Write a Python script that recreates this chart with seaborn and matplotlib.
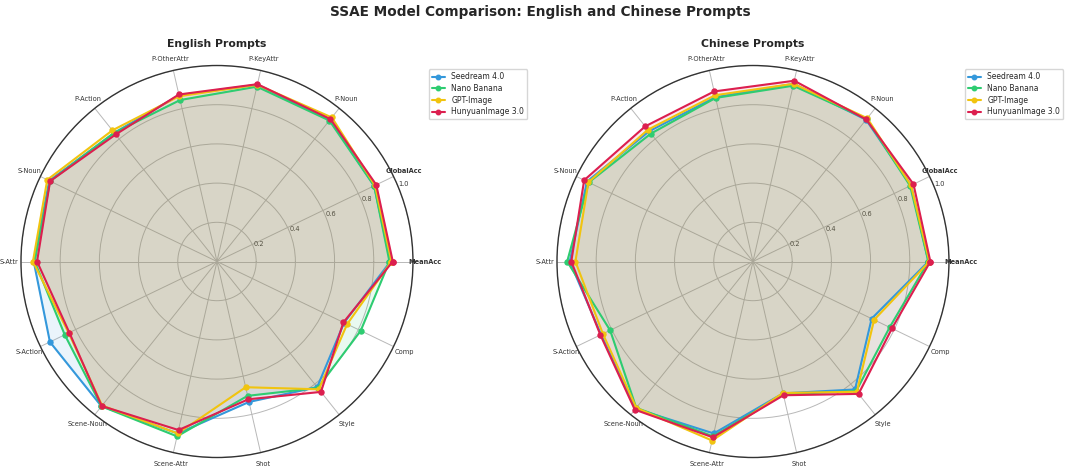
import numpy as np
import matplotlib
matplotlib.use("Agg")
import matplotlib.pyplot as plt
import seaborn as sns

categories = ['MeanAcc', 'GlobalAcc', 'P-Noun', 'P-KeyAttr', 'P-OtherAttr', 'P-Action', 'S-Noun',
              'S-Attr', 'S-Action', 'Scene-Noun', 'Scene-Attr', 'Shot', 'Style', 'Comp']
models = ['Seedream 4.0', 'Nano Banana', 'GPT-Image', 'HunyuanImage 3.0']

# English prompts
en_seedream = [0.885, 0.890, 0.925, 0.925, 0.870, 0.840, 0.950, 0.935, 0.946, 0.945, 0.900, 0.735, 0.820, 0.720]
en_nano = [0.880, 0.890, 0.920, 0.915, 0.845, 0.840, 0.945, 0.930, 0.862, 0.945, 0.915, 0.703, 0.825, 0.814]
en_gpt = [0.890, 0.895, 0.940, 0.925, 0.865, 0.856, 0.961, 0.939, 0.840, 0.940, 0.900, 0.658, 0.834, 0.737]
en_hunyuan = [0.897, 0.902, 0.929, 0.928, 0.874, 0.829, 0.945, 0.918, 0.836, 0.943, 0.882, 0.721, 0.851, 0.716]

# Chinese prompts
zh_seedream = [0.895, 0.895, 0.925, 0.930, 0.860, 0.850, 0.940, 0.935, 0.860, 0.960, 0.900, 0.690, 0.835, 0.672]
zh_nano = [0.895, 0.890, 0.930, 0.920, 0.856, 0.835, 0.930, 0.948, 0.809, 0.955, 0.915, 0.695, 0.845, 0.774]
zh_gpt = [0.900, 0.895, 0.935, 0.930, 0.870, 0.860, 0.932, 0.906, 0.850, 0.955, 0.937, 0.688, 0.850, 0.686]
zh_hunyuan = [0.905, 0.909, 0.927, 0.946, 0.890, 0.882, 0.956, 0.927, 0.864, 0.967, 0.920, 0.700, 0.864, 0.787]

colors = ['#3498db', '#2ecc71', '#f1c40f', '#dc1f4f']

sns.set_style("white")
plt.rcParams['font.family'] = ['DejaVu Sans']

n = len(categories)
angles = np.linspace(0, 2 * np.pi, n, endpoint=False).tolist()
angles_closed = angles + angles[:1]

fig = plt.figure(figsize=(10.8, 4.74), dpi=100)
ax1 = fig.add_axes([0.0194, 0.0348, 0.363, 0.827], projection='polar')
ax2 = fig.add_axes([0.5157, 0.0348, 0.363, 0.827], projection='polar')


def draw_radar(ax, series, title):
    for name, vals, col in zip(models, series, colors):
        v = list(vals) + vals[:1]
        ax.plot(angles_closed, v, color=col, linewidth=1.5, marker='o', markersize=3.6, label=name)
        ax.fill(angles_closed, v, color=col, alpha=0.1)
    ax.set_ylim(0, 1)
    ax.set_xticks(angles)
    ax.set_xticklabels(categories, fontsize=4.8, color='#333333')
    for lbl in ax.get_xticklabels():
        if lbl.get_text() in ('MeanAcc', 'GlobalAcc'):
            lbl.set_fontweight('bold')
    ax.tick_params(axis='x', pad=-2)
    ax.set_yticks([0.2, 0.4, 0.6, 0.8, 1.0])
    ax.set_yticklabels(['0.2', '0.4', '0.6', '0.8', '1.0'], fontsize=4.8, color='#333333')
    ax.set_rlabel_position(22.5)
    ax.grid(True, color='#b8b8b8', linewidth=0.7)
    ax.spines['polar'].set_color('#333333')
    ax.spines['polar'].set_linewidth(1.0)
    ax.set_title(title, fontsize=7.8, fontweight='bold', pad=13)
    ax.legend(loc='upper left', bbox_to_anchor=(1.03, 1.0), fontsize=5.5, frameon=True,
              handlelength=1.8, markerscale=0.9, labelspacing=0.35)


draw_radar(ax1, [en_seedream, en_nano, en_gpt, en_hunyuan], 'English Prompts')
draw_radar(ax2, [zh_seedream, zh_nano, zh_gpt, zh_hunyuan], 'Chinese Prompts')

fig.suptitle('SSAE Model Comparison: English and Chinese Prompts', x=0.5, y=0.99,
             fontsize=9.8, fontweight='bold')

fig.savefig('out.png', dpi=100)
